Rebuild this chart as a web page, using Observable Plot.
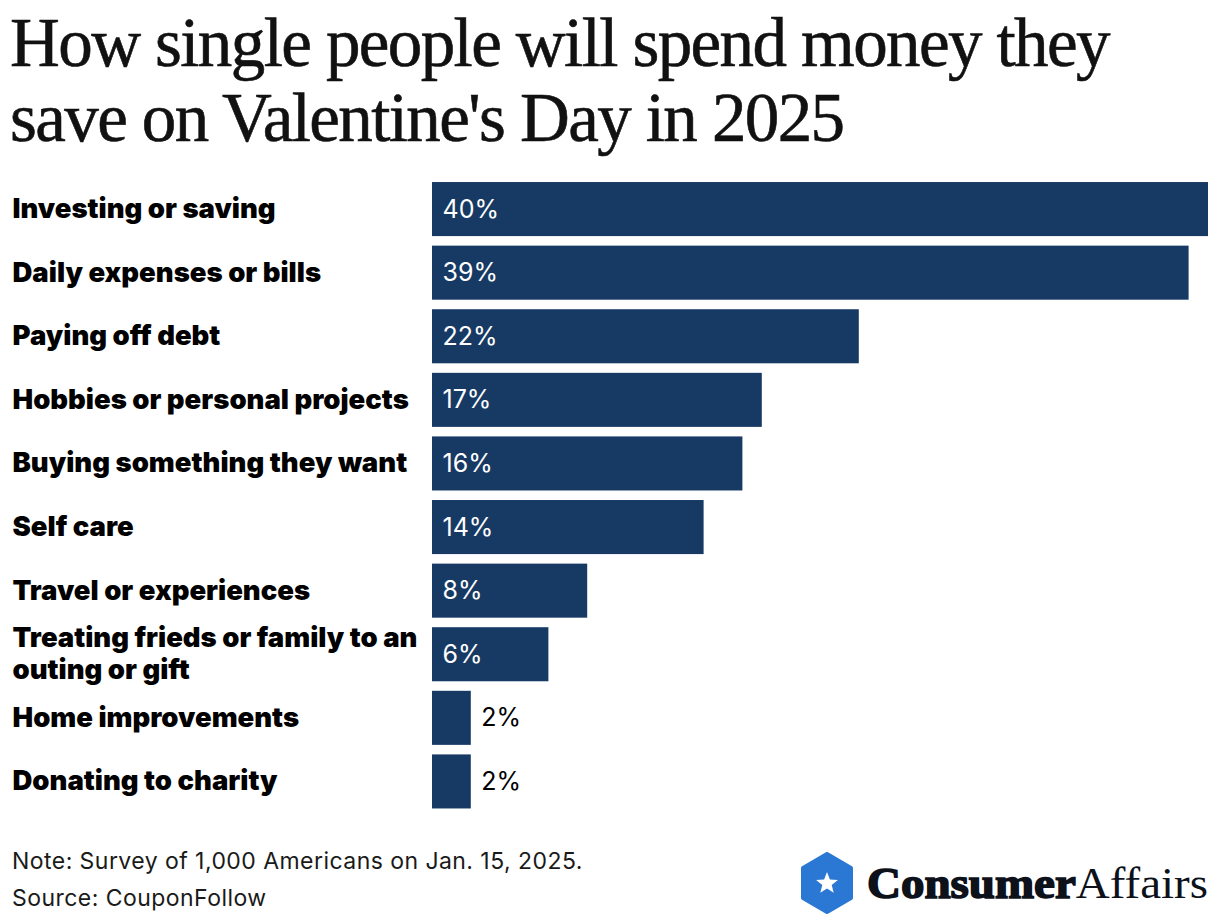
<!DOCTYPE html>
<html>
<head>
<meta charset="utf-8">
<script src="https://cdn.jsdelivr.net/npm/d3@7"></script>
<script src="https://cdn.jsdelivr.net/npm/@observablehq/plot@0.6"></script>
<style>
  html, body { margin: 0; padding: 0; background: #fff; }
  body { width: 1220px; height: 924px; position: relative; overflow: hidden; }
  #title { position: absolute; left: 10px; top: 6px; font-family: "Liberation Serif", serif; font-size: 69px; line-height: 75px; letter-spacing: -1.6px; color: #111; white-space: nowrap; -webkit-text-stroke: 0.6px #111; }
  #chart { position: absolute; left: 0; top: 170px; }
  #note { position: absolute; left: 12px; top: 843px; font-family: Inter, "Liberation Sans", sans-serif; font-size: 23px; letter-spacing: 0.45px; line-height: 37px; color: #1a1a1a; }
  #logo { position: absolute; left: 800px; top: 852px; }
</style>
</head>
<body>
<div id="title">How single people will spend money they<br>save on Valentine's Day in 2025</div>
<div id="chart"></div>
<div id="note">Note: Survey of 1,000 Americans on Jan. 15, 2025.<br>Source: CouponFollow</div>
<div id="logo">
  <svg width="420" height="64" viewBox="0 0 420 64">
    <polygon points="27,2 51,16 51,46 27,60 3,46 3,16" fill="#2a78d4" stroke="#2a78d4" stroke-width="4" stroke-linejoin="round"/>
    <polygon points="27,20 29.9,27.5 37.9,27.9 31.7,33 33.7,40.8 27,36.4 20.3,40.8 22.3,33 16.1,27.9 24.1,27.5" fill="#fff"/>
    <text x="67" y="46" font-family="Liberation Serif, serif" font-size="44" fill="#0d111a" textLength="341" lengthAdjust="spacingAndGlyphs"><tspan font-weight="bold" stroke="#0d111a" stroke-width="1.6">Consumer</tspan><tspan>Affairs</tspan></text>
  </svg>
</div>
<script>
const categories = [
  "Investing or saving",
  "Daily expenses or bills",
  "Paying off debt",
  "Hobbies or personal projects",
  "Buying something they want",
  "Self care",
  "Travel or experiences",
  "Treating frieds or family to an outing or gift",
  "Home improvements",
  "Donating to charity"
];
const values = [40, 39, 22, 17, 16, 14, 8, 6, 2, 2];
const labelBreaks = { "Treating frieds or family to an outing or gift": "Treating frieds or family to an\nouting or gift" };

const data = categories.map((c, i) => ({ category: c, value: values[i] }));

const chart = Plot.plot({
  width: 1220,
  height: 648,
  marginLeft: 432,
  marginRight: 12,
  marginTop: 2.5,
  marginBottom: 0,
  x: { domain: [0, 40], axis: null },
  y: { domain: categories, padding: 0.15, round: false, label: null },
  style: { fontFamily: "Inter, 'Liberation Sans', sans-serif", background: "#fff" },
  marks: [
    Plot.barX(data, { x: "value", y: "category", fill: "#173a64" }),
    Plot.axisY({
      tickSize: 0,
      textAnchor: "start",
      dx: -420,
      dy: -2,
      tickPadding: 0,
      fontSize: 27.5,
      fontWeight: 900,
      fill: "#000",
      lineHeight: 1.18,
      tickFormat: d => labelBreaks[d] || d
    }),
    Plot.text(data.filter(d => d.value > 4), {
      x: 0, y: "category", text: d => d.value + "%",
      textAnchor: "start", dx: 10, fill: "#fff", fontSize: 25
    }),
    Plot.text(data.filter(d => d.value <= 4), {
      x: "value", y: "category", text: d => d.value + "%",
      textAnchor: "start", dx: 10, fill: "#000", fontSize: 25
    })
  ]
});
document.getElementById("chart").appendChild(chart);
</script>
</body>
</html>
